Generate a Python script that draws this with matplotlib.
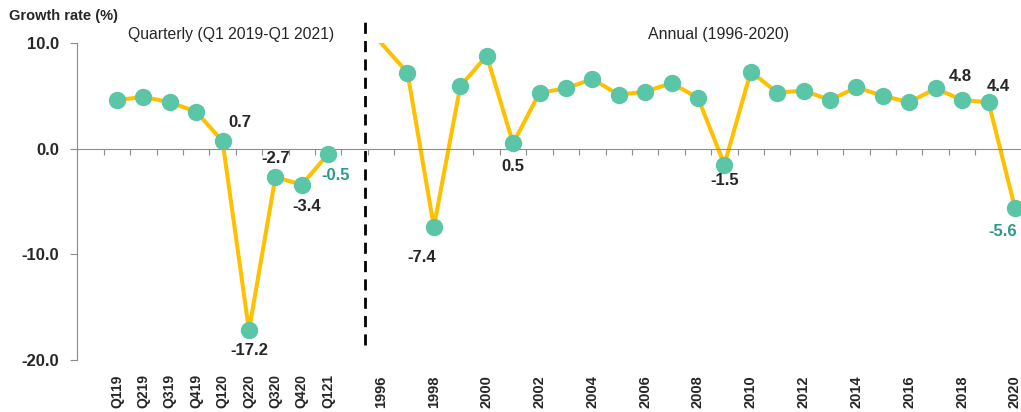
import matplotlib
matplotlib.use('Agg')
import matplotlib.pyplot as plt
from matplotlib import transforms

# 数据
quarters = ['Q119', 'Q219', 'Q319', 'Q419', 'Q120', 'Q220', 'Q320', 'Q420', 'Q121']
q_growth = [4.6, 4.9, 4.4, 3.5, 0.7, -17.2, -2.7, -3.4, -0.5]
years = [str(y) for y in range(1996, 2021)]
a_growth = [10.0, 7.2, -7.4, 5.9, 8.8, 0.5, 5.3, 5.7, 6.6, 5.1, 5.4, 6.2, 4.8,
            -1.5, 7.3, 5.3, 5.5, 4.6, 5.8, 5.0, 4.4, 5.7, 4.6, 4.4, -5.6]
year_ticks = years[::2]

line_c = '#FFC000'
mark_c = '#5BC5A7'
teal = '#2A9A8A'
dark = '#262626'
fam = ['Liberation Sans Narrow', 'Liberation Sans', 'DejaVu Sans']
plt.rcParams['font.family'] = fam

fig = plt.figure(figsize=(10.21, 4.12), dpi=100)
ax = fig.add_axes([0.0757, 0.1262, 0.9313, 0.7694])

xq = list(range(len(quarters)))
xa = [len(quarters) + 1 + i for i in range(len(years))]

ax.plot(xq, q_growth, color=line_c, lw=2.9, zorder=2)
ax.plot(xq, q_growth, 'o', color=mark_c, ms=11.5, zorder=3)
ax.plot(xa, a_growth, color=line_c, lw=2.9, zorder=2)
ax.plot(xa[1:], a_growth[1:], 'o', color=mark_c, ms=11.5, zorder=3)  # 1996点被顶边截掉

ax.set_xlim(-1.5, xa[-1] + 0.5)
ax.set_ylim(-20, 10)

# 坐标轴
for s in ['top', 'right']:
    ax.spines[s].set_visible(False)
ax.spines['left'].set_color('#8C8C8C')
ax.spines['bottom'].set_position(('data', 0))
ax.spines['bottom'].set_color('#8C8C8C')
ax.set_yticks([10, 0, -10, -20])
ax.set_yticklabels(['10.0', '0.0', '-10.0', '-20.0'], fontsize=12, fontweight='bold', color=dark)
ax.tick_params(axis='y', length=5, color='#8C8C8C', pad=8)
ax.set_xticks([i - 0.5 for i in range(0, xa[-1] + 1)])
ax.set_xticklabels([])
ax.tick_params(axis='x', length=4, color='#8C8C8C')

# 分类标签，放在图底部
tr = transforms.blended_transform_factory(ax.transData, fig.transFigure)
for x, lab in zip(xq, quarters):
    ax.text(x, 0.01, lab, transform=tr, rotation=90, ha='center', va='bottom',
            fontsize=10, fontweight='bold', color=dark)
for x, lab in zip(xa, years):
    if lab in year_ticks:
        ax.text(x, 0.01, lab, transform=tr, rotation=90, ha='center', va='bottom',
                fontsize=10.5, fontweight='bold', color=dark)

# 分隔虚线
ax.axvline(len(quarters) + 0.4, ymin=0.047, ymax=1.082, color='black', lw=2,
           dashes=(4, 2.6), clip_on=False)

# 数据标签 (偏移单位: 像素, 向下为正)
labels = [
    (xq[4], q_growth[4], '0.7', 17, -19, dark),
    (xq[5], q_growth[5], '-17.2', 0, 20, dark),
    (xq[6], q_growth[6], '-2.7', 0, -19, dark),
    (xq[7], q_growth[7], '-3.4', 5, 22, dark),
    (xq[8], q_growth[8], '-0.5', 7, 22, teal),
    (xa[2], a_growth[2], '-7.4', -12, 31, dark),
    (xa[5], a_growth[5], '0.5', 0, 23, dark),
    (xa[13], a_growth[13], '-1.5', 0, 16, dark),
    (xa[22], a_growth[22], '4.8', -2, -24, dark),
    (xa[23], a_growth[23], '4.4', 10, -16, dark),
    (xa[24], a_growth[24], '-5.6', -12, 24, teal),
]
for x, y, t, dx, dy, c in labels:
    ax.annotate(t, (x, y), xytext=(dx, -dy), textcoords='offset pixels',
                ha='center', va='center', fontsize=12, fontweight='bold', color=c)

fig.text(9 / 1021, 1 - 16 / 412, 'Growth rate (%)', fontsize=10.5, fontweight='bold',
         color=dark, va='center', ha='left')
fig.text(231 / 1021, 1 - 35 / 412, 'Quarterly (Q1 2019-Q1 2021)', fontsize=11.3,
         color=dark, va='center', ha='center')
fig.text(719 / 1021, 1 - 35 / 412, 'Annual (1996-2020)', fontsize=11.5,
         color=dark, va='center', ha='center')

fig.savefig('out.png', dpi=100)
